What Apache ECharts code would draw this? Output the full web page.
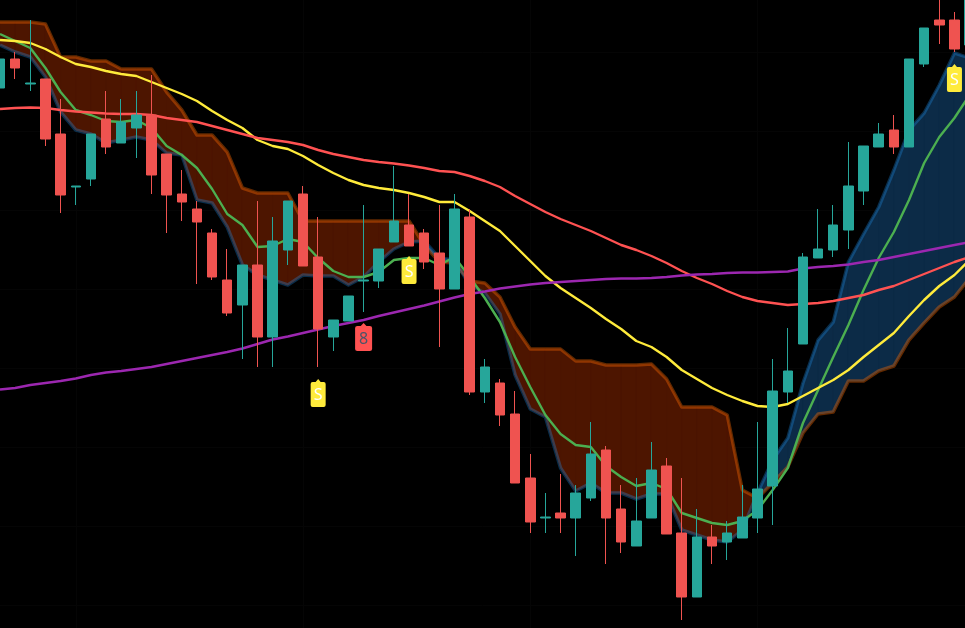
<!DOCTYPE html>
<html>
<head>
<meta charset="utf-8">
<style>html,body{margin:0;padding:0;background:#000}#c{width:965px;height:628px}</style>
<script src="https://cdn.jsdelivr.net/npm/echarts@6/dist/echarts.min.js"></script>
</head>
<body>
<div id="c"></div>
<script>
// All values are in the chart's own unit, on an axis that runs from top (0) to bottom (628).
const candleOpen  = [88,59,84,79,134,187,179,119,143,128,115,154,194,209,233,280,305,265,337,250,194,257,337,321,281,281,242,225,233,253,289,217,392,383,414,478,518,513,518,498,450,509,546,518,466,533,597,537,542,538,518,486,392,344,258,250,230,191,147,130,147,64,20,20,45];
const candleClose = [59,68,83,139,195,186,134,147,122,115,175,195,202,222,277,313,265,337,241,201,266,329,320,296,280,249,221,246,262,289,209,392,367,415,483,522,517,518,493,454,518,542,521,470,534,597,537,546,533,517,489,391,371,257,249,225,186,146,134,147,59,28,25,49,0];
const candleHigh  = [52,52,20,79,99,186,134,91,99,91,75,154,170,201,229,249,265,201,217,201,186,217,320,296,205,249,166,194,229,205,194,209,359,379,391,454,493,474,485,422,446,485,478,442,458,478,509,525,521,485,422,359,328,253,209,205,142,146,123,115,59,28,0,12,0];
const candleLow   = [109,79,91,146,213,205,186,154,143,158,194,233,221,284,280,316,359,367,367,265,266,367,351,321,312,288,242,246,269,347,289,395,403,426,483,533,533,533,556,501,564,553,546,518,534,620,597,564,560,538,533,525,403,344,258,257,249,205,147,154,147,67,44,52,45];
const bandOrange  = [22,22,22,24,57,57,61,61,69,69,69,92,110,135,135,152,188,193,193,193,221,221,221,221,221,221,221,221,245,262,263,281,283,297,327,349,349,349,361,361,365,365,365,364,379,407,407,407,415,490,498,483,467,433,414,412,381,381,371,366,340,323,307,297,278];
const bandBlue    = [45,52,57,77,112,130,134,143,140,137,140,153,155,200,203,227,265,275,280,285,275,276,276,285,277,262,249,242,241,258,260,285,293,314,375,409,417,468,491,483,493,493,499,494,494,530,535,540,542,530,493,460,438,383,340,322,262,234,207,170,130,113,85,53,58];
const lineGreen   = [34,41,48,68,92,110,115,121,122,120,128,146,155,168,189,214,225,247,246,239,242,258,271,277,277,272,260,258,258,265,257,277,298,322,357,387,415,434,445,447,466,477,486,483,489,513,518,523,525,521,510,490,468,423,390,357,325,290,258,232,200,163,137,118,95];
const lineYellow  = [40,41,43,49,57,64,67,71,74,76,82,88,94,101,111,120,128,140,146,149,156,165,173,180,185,188,190,193,197,202,202,211,221,231,246,261,276,288,298,308,319,329,341,347,357,370,379,388,395,401,406,407,404,396,388,380,370,357,345,333,316,300,286,275,260];
const lineRed     = [109,108,107.5,108,110,111.5,112.5,113.5,114,114,115,118,120,122,126,130,134,138,140,142,145,150,154,157,160,162,163.5,165.5,168,171,172,176,181,187,196,204,212,219,225,231,238,245,250,256,263,271,278,284,291,297,301,303,305,304,303,301,298,295,290,286,280,274,268,262,257];
const linePurple  = [389.5,388,385,383,381,378.5,375,372.5,371,369,367,364,361,358,355,352,348.5,344,339.5,336.5,333,329.5,326,323,320,316,312.5,309,305.5,301.5,297.5,294,291.5,288.5,286.5,284.5,283,282,281,280,279,278.5,278.5,278,277,275.5,274.5,274,273,272.5,272.5,272,271.5,268.5,267,266,264.5,262,260,257,254,251,248,245,242];
const categories  = candleOpen.map((_, i) => String(i + 1));
const signalIndex = [21, 27, 63, 24];
const signalValue = [393, 270, 78, 337];
const signalText  = ['S', 'S', 'S', '8'];
const gridColumns = [5, 20, 35, 50];
const gridRows    = [52, 131, 210, 289, 368, 447, 526, 605];

const BAND_STEP = 15.15;
const FILL_RED = '#4d1500', FILL_BLUE = '#0c2b47';
const pinPath = 'path://M7.5 0L10 3L13 3Q15 3 15 5L15 26Q15 28 13 28L2 28Q0 28 0 26L0 5Q0 3 2 3L5 3Z';

function poly(points, fill) {
  return { type: 'polygon', shape: { points }, style: { fill, stroke: fill, lineWidth: 1 } };
}
function renderBand(params, api) {
  const i = params.dataIndex;
  if (i >= categories.length - 1) return { type: 'group', children: [] };
  const a0 = api.coord([i, bandOrange[i]]), a1 = api.coord([i + 1, bandOrange[i + 1]]);
  const b0 = api.coord([i, bandBlue[i]]), b1 = api.coord([i + 1, bandBlue[i + 1]]);
  const d0 = bandOrange[i] - bandBlue[i], d1 = bandOrange[i + 1] - bandBlue[i + 1];
  const col = d => (d > 0 ? FILL_BLUE : FILL_RED);
  if (d0 * d1 >= 0) {
    return poly([a0, a1, b1, b0], col(d0 + d1));
  }
  const t = d0 / (d0 - d1);
  const c = [a0[0] + (a1[0] - a0[0]) * t, a0[1] + (a1[1] - a0[1]) * t];
  return { type: 'group', children: [poly([a0, c, b0], col(d0)), poly([c, a1, b1], col(d1))] };
}
function lineSeries(data, color, width, z, extra) {
  return Object.assign({ type: 'line', data, symbol: 'none', smooth: false, silent: true, z,
    lineStyle: { color, width, join: 'round', opacity: 1 }, clip: false }, extra || {});
}

const chart = echarts.init(document.getElementById('c'), null, { renderer: 'canvas' });
chart.setOption({
  animation: false,
  backgroundColor: '#000000',
  tooltip: { show: false },
  legend: { show: false },
  grid: { left: -BAND_STEP / 2, right: 965 + BAND_STEP / 2 - BAND_STEP * categories.length, top: 0, bottom: 0, containLabel: false, outerBoundsMode: 'none' },
  xAxis: { type: 'category', data: categories, boundaryGap: true, show: false },
  yAxis: { type: 'value', inverse: true, min: 0, max: 628, show: false, splitLine: { show: false } },
  series: [
    lineSeries([], '#000', 0, 0, {
      markLine: { z: 0, silent: true, symbol: 'none', label: { show: false }, animation: false,
        lineStyle: { color: '#050505', width: 1, type: 'solid' },
        data: gridColumns.map(v => ({ xAxis: v })).concat(gridRows.map(v => ({ yAxis: v }))) } }),
    { type: 'custom', renderItem: renderBand, data: categories.map((c, i) => [i, bandOrange[i]]),
      encode: { x: 0, y: 1 }, silent: true, z: 1, clip: false },
    lineSeries(bandOrange, 'rgba(255,109,0,0.38)', 3.5, 2),
    lineSeries(bandBlue, 'rgba(33,150,243,0.3)', 3.5, 2),
    lineSeries(lineGreen, '#4caf50', 2.4, 3),
    lineSeries(lineYellow, '#ffeb3b', 2.4, 3),
    lineSeries(lineRed, '#ff5252', 2.4, 3),
    lineSeries(linePurple, '#9c27b0', 2.4, 3),
    { type: 'candlestick', silent: true, z: 5, barWidth: 10,
      data: categories.map((c, i) => [candleOpen[i], candleClose[i], candleLow[i], candleHigh[i]]),
      itemStyle: { color: '#ef5350', color0: '#26a69a', borderColor: '#ef5350', borderColor0: '#26a69a', borderWidth: 1 } },
    { type: 'scatter', silent: true, z: 6, symbol: pinPath,
      data: signalIndex.map((x, i) => {
        const isSell = signalText[i] === 'S';
        return {
          value: [x, signalValue[i]],
          symbolSize: isSell ? [15, 28] : [17, 28],
          itemStyle: { color: isSell ? '#ffeb3b' : '#ff5252', opacity: 1 },
          label: { show: true, position: 'inside', offset: [0, 2], formatter: signalText[i],
            fontFamily: 'Noto Sans', fontSize: 16, color: isSell ? '#ffffff' : '#4a5568' }
        };
      }) }
  ]
});
</script>
</body>
</html>
